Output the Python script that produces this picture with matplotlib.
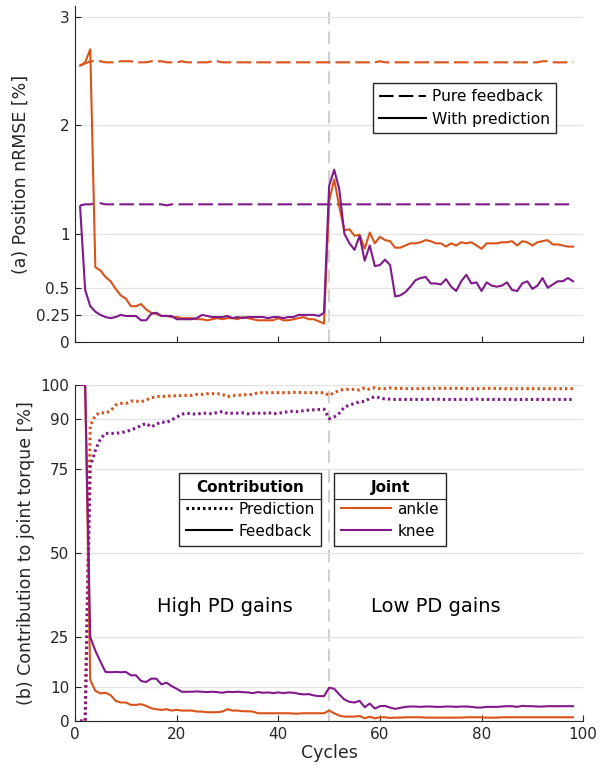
import matplotlib
matplotlib.use('Agg')
import matplotlib.pyplot as plt
from matplotlib.lines import Line2D
import numpy as np

# data ---------------------------------------------------------------
cycles = np.arange(1, 99)

# (a) position nRMSE [%]
ankle_rmse_fb = [2.55, 2.57, 2.59, 2.59, 2.59, 2.58, 2.58, 2.58, 2.59, 2.59,
                 2.59, 2.58, 2.58, 2.58, 2.59, 2.59, 2.59, 2.58, 2.58, 2.58,
                 2.59, 2.58, 2.58, 2.58, 2.58, 2.58, 2.59, 2.59, 2.58, 2.58,
                 2.58, 2.58, 2.58, 2.58, 2.58, 2.58, 2.58, 2.58, 2.58, 2.58,
                 2.58, 2.58, 2.58, 2.58, 2.58, 2.58, 2.58, 2.58, 2.58, 2.58,
                 2.58, 2.58, 2.58, 2.58, 2.58, 2.58, 2.58, 2.58, 2.58, 2.59,
                 2.58, 2.58, 2.58, 2.58, 2.58, 2.58, 2.58, 2.58, 2.58, 2.58,
                 2.58, 2.58, 2.58, 2.58, 2.58, 2.58, 2.58, 2.58, 2.58, 2.58,
                 2.58, 2.58, 2.58, 2.58, 2.58, 2.58, 2.58, 2.58, 2.58, 2.58,
                 2.58, 2.59, 2.59, 2.58, 2.58, 2.58, 2.58, 2.58]
knee_rmse_fb = [1.26, 1.27, 1.27, 1.28, 1.28, 1.27, 1.27, 1.27, 1.27, 1.27,
                1.27, 1.27, 1.27, 1.27, 1.27, 1.27, 1.27, 1.26, 1.27, 1.27,
                1.27, 1.27, 1.27, 1.27, 1.27, 1.27, 1.27, 1.27, 1.27, 1.27,
                1.27, 1.27, 1.27, 1.27, 1.27, 1.27, 1.27, 1.27, 1.27, 1.27,
                1.27, 1.27, 1.27, 1.27, 1.27, 1.27, 1.27, 1.27, 1.27, 1.27,
                1.27, 1.27, 1.27, 1.27, 1.27, 1.27, 1.27, 1.27, 1.27, 1.27,
                1.27, 1.27, 1.27, 1.27, 1.27, 1.27, 1.27, 1.27, 1.27, 1.27,
                1.27, 1.27, 1.27, 1.27, 1.27, 1.27, 1.27, 1.27, 1.27, 1.27,
                1.27, 1.27, 1.27, 1.27, 1.27, 1.27, 1.27, 1.27, 1.27, 1.27,
                1.27, 1.27, 1.27, 1.27, 1.27, 1.27, 1.27, 1.27]
ankle_rmse_pred = [2.55, 2.58, 2.70, 0.69, 0.66, 0.60, 0.56, 0.49, 0.43, 0.40,
                   0.33, 0.33, 0.35, 0.30, 0.27, 0.26, 0.24, 0.24, 0.23, 0.23,
                   0.22, 0.22, 0.22, 0.21, 0.21, 0.20, 0.21, 0.22, 0.21, 0.22,
                   0.22, 0.21, 0.23, 0.22, 0.21, 0.20, 0.20, 0.20, 0.20, 0.22,
                   0.20, 0.20, 0.21, 0.22, 0.23, 0.21, 0.21, 0.19, 0.17, 1.30,
                   1.50, 1.25, 1.03, 1.04, 0.98, 0.99, 0.86, 1.01, 0.91, 0.97,
                   0.94, 0.93, 0.87, 0.87, 0.89, 0.91, 0.91, 0.92, 0.94, 0.93,
                   0.91, 0.91, 0.88, 0.91, 0.89, 0.92, 0.91, 0.92, 0.89, 0.86,
                   0.91, 0.91, 0.91, 0.92, 0.92, 0.93, 0.89, 0.93, 0.92, 0.89,
                   0.92, 0.93, 0.94, 0.90, 0.90, 0.89, 0.88, 0.88]
knee_rmse_pred = [1.25, 0.48, 0.33, 0.28, 0.25, 0.23, 0.22, 0.23, 0.25, 0.24,
                  0.24, 0.24, 0.20, 0.20, 0.26, 0.27, 0.24, 0.24, 0.24, 0.21,
                  0.21, 0.21, 0.21, 0.22, 0.25, 0.24, 0.23, 0.23, 0.23, 0.24,
                  0.22, 0.23, 0.22, 0.23, 0.23, 0.23, 0.23, 0.22, 0.23, 0.23,
                  0.22, 0.23, 0.23, 0.25, 0.25, 0.25, 0.25, 0.24, 0.27, 1.44,
                  1.59, 1.41, 1.00, 0.91, 0.85, 0.98, 0.75, 0.89, 0.70, 0.71,
                  0.76, 0.71, 0.42, 0.43, 0.46, 0.51, 0.57, 0.59, 0.60, 0.54,
                  0.54, 0.53, 0.58, 0.51, 0.47, 0.56, 0.62, 0.54, 0.55, 0.47,
                  0.55, 0.52, 0.51, 0.52, 0.55, 0.48, 0.47, 0.54, 0.56, 0.49,
                  0.52, 0.59, 0.50, 0.53, 0.56, 0.56, 0.59, 0.56]

# (b) contribution to joint torque [%]
ankle_tq_fb = [100, 100, 12.2, 9.0, 8.2, 8.4, 7.7, 6.0, 5.5, 5.5,
               4.8, 4.8, 5.0, 4.5, 3.8, 3.5, 3.3, 3.5, 3.1, 3.3,
               3.1, 3.1, 3.1, 2.8, 2.8, 2.6, 2.6, 2.6, 2.8, 3.5,
               3.1, 3.1, 2.9, 2.9, 2.8, 2.3, 2.3, 2.3, 2.3, 2.3,
               2.3, 2.3, 2.2, 2.2, 2.3, 2.3, 2.3, 2.3, 2.3, 3.1,
               2.3, 1.6, 1.3, 1.3, 1.3, 1.5, 0.8, 1.3, 0.8, 1.1,
               1.1, 0.9, 1.0, 1.0, 1.1, 1.1, 1.1, 1.1, 1.0, 1.0,
               1.0, 1.0, 1.0, 1.0, 1.0, 1.0, 1.1, 1.1, 1.1, 1.1,
               1.0, 1.0, 1.0, 1.1, 1.1, 1.1, 1.1, 1.1, 1.1, 1.1,
               1.1, 1.1, 1.1, 1.1, 1.1, 1.1, 1.1, 1.1]
ankle_tq_pred = [0, 0, 87.8, 91.0, 91.8, 91.6, 92.3, 94.0, 94.5, 94.5,
                 95.2, 95.2, 95.0, 95.5, 96.2, 96.5, 96.7, 96.5, 96.9, 96.7,
                 96.9, 96.9, 96.9, 97.2, 97.2, 97.4, 97.4, 97.4, 97.2, 96.5,
                 96.9, 96.9, 97.1, 97.1, 97.2, 97.7, 97.7, 97.7, 97.7, 97.7,
                 97.7, 97.7, 97.8, 97.8, 97.7, 97.7, 97.7, 97.7, 97.7, 96.9,
                 97.7, 98.4, 98.7, 98.7, 98.7, 98.5, 99.2, 98.7, 99.2, 98.9,
                 98.9, 99.1, 99.0, 99.0, 98.9, 98.9, 98.9, 98.9, 99.0, 99.0,
                 99.0, 99.0, 99.0, 99.0, 99.0, 99.0, 98.9, 98.9, 98.9, 98.9,
                 99.0, 99.0, 99.0, 98.9, 98.9, 98.9, 98.9, 98.9, 98.9, 98.9,
                 98.9, 98.9, 98.9, 98.9, 98.9, 98.9, 98.9, 98.9]
knee_tq_fb = [100, 100, 25.0, 20.9, 17.7, 14.6, 14.5, 14.6, 14.5, 14.6,
              13.6, 13.6, 11.9, 11.6, 12.6, 12.6, 10.9, 11.4, 10.4, 9.6,
              8.7, 8.7, 8.7, 8.8, 8.7, 8.6, 8.7, 8.6, 8.4, 8.7,
              8.6, 8.7, 8.6, 8.5, 8.3, 8.6, 8.4, 8.5, 8.3, 8.5,
              8.3, 8.5, 8.4, 8.1, 7.9, 8.0, 7.6, 7.4, 7.4, 9.9,
              9.6, 7.9, 6.4, 5.7, 5.5, 6.0, 4.1, 5.2, 3.7, 4.4,
              4.5, 4.0, 3.6, 3.9, 4.2, 4.3, 4.3, 4.2, 4.3, 4.3,
              4.2, 4.2, 4.3, 4.3, 4.2, 4.3, 4.3, 4.2, 4.0, 4.0,
              4.2, 4.2, 4.2, 4.3, 4.4, 4.4, 4.2, 4.5, 4.4, 4.4,
              4.3, 4.3, 4.4, 4.4, 4.4, 4.4, 4.4, 4.4]
knee_tq_pred = [0, 0, 75.7, 80.5, 84.0, 85.6, 85.6, 85.6, 85.8, 86.1,
                86.6, 87.2, 87.9, 88.6, 87.5, 88.3, 89.0, 88.8, 89.6, 90.4,
                91.3, 91.6, 91.4, 91.3, 91.6, 91.6, 91.4, 91.8, 92.1, 91.5,
                91.6, 91.6, 91.7, 91.4, 91.6, 91.6, 91.5, 91.8, 91.4, 91.6,
                91.8, 92.1, 92.2, 92.0, 92.4, 92.5, 92.6, 92.7, 92.8, 90.0,
                90.5, 91.6, 93.4, 94.0, 94.5, 95.0, 95.1, 96.0, 96.5, 96.2,
                95.8, 95.8, 95.7, 95.7, 95.7, 95.7, 95.7, 95.7, 95.7, 95.7,
                95.8, 95.7, 95.7, 95.7, 95.7, 95.7, 95.7, 95.7, 95.8, 95.7,
                95.7, 95.7, 95.7, 95.7, 95.7, 95.7, 95.6, 95.7, 95.7, 95.7,
                95.7, 95.7, 95.7, 95.7, 95.7, 95.7, 95.7, 95.7]

rmse_ticks = [0, 0.25, 0.5, 1, 2, 3]
torque_ticks = [0, 10, 25, 50, 75, 90, 100]
cycle_ticks = [0, 20, 40, 60, 80, 100]
switch_cycle = 50

c_ankle = '#D95319'
c_knee = '#80198A'
dark = '#262626'

plt.rcParams['font.family'] = 'DejaVu Sans'
fig = plt.figure(figsize=(6, 7.76), dpi=100)
ax1 = fig.add_axes([0.125, 0.5593, 0.847, 0.433])
ax2 = fig.add_axes([0.125, 0.0709, 0.847, 0.433])

dash = (7, 2.5)
dot = (0.8, 1.0)

# --- (a) ---
ax1.plot(cycles, ankle_rmse_fb, color=c_ankle, lw=1.5, dashes=dash)
ax1.plot(cycles, knee_rmse_fb, color=c_knee, lw=1.5, dashes=dash)
ax1.plot(cycles, ankle_rmse_pred, color=c_ankle, lw=1.5)
ax1.plot(cycles, knee_rmse_pred, color=c_knee, lw=1.5)
ax1.set_ylim(0, 3.1)
ax1.set_yticks(rmse_ticks)
ax1.set_yticklabels(['0', '0.25', '0.5', '1', '2', '3'])
ax1.set_xticklabels([])
ax1.set_ylabel('(a) Position nRMSE [%]', fontsize=12.5, color=dark)
h = [Line2D([], [], color='k', lw=1.5, dashes=dash),
     Line2D([], [], color='k', lw=1.5)]
ax1.legend(h, ['Pure feedback', 'With prediction'], loc='upper right',
           bbox_to_anchor=(0.947, 0.771), borderaxespad=0, fontsize=11.2,
           fancybox=False, framealpha=1, edgecolor=dark, handlelength=3,
           handletextpad=0.4)

# --- (b) ---
ax2.plot(cycles, ankle_tq_pred, color=c_ankle, lw=2.2, dashes=dot)
ax2.plot(cycles, knee_tq_pred, color=c_knee, lw=2.2, dashes=dot)
ax2.plot(cycles, ankle_tq_fb, color=c_ankle, lw=1.5)
ax2.plot(cycles, knee_tq_fb, color=c_knee, lw=1.5)
ax2.set_ylim(0, 100)
ax2.set_yticks(torque_ticks)
ax2.set_xticklabels([str(t) for t in cycle_ticks])
ax2.set_ylabel('(b) Contribution to joint torque [%]', fontsize=12.5, color=dark)
ax2.set_xlabel('Cycles', fontsize=12.5, color=dark, labelpad=2)
ax2.text(29.5, 34, 'High PD gains', fontsize=14, ha='center', va='center', color='k')
ax2.text(71, 34, 'Low PD gains', fontsize=14, ha='center', va='center', color='k')

leg_kw = dict(loc='upper left', borderaxespad=0, fontsize=11, fancybox=False,
              framealpha=1, edgecolor=dark, handletextpad=0.4, borderpad=0.45,
              labelspacing=0.45, title_fontproperties={'weight': 'bold', 'size': 11})
hc = [Line2D([], [], color='k', lw=2.2, dashes=dot), Line2D([], [], color='k', lw=1.5)]
leg_c = ax2.legend(hc, ['Prediction', 'Feedback'], title='Contribution',
                   bbox_to_anchor=(0.205, 0.738), handlelength=3, **leg_kw)
ax2.add_artist(leg_c)
hj = [Line2D([], [], color=c_ankle, lw=1.5), Line2D([], [], color=c_knee, lw=1.5)]
leg_j = ax2.legend(hj, ['ankle', 'knee'], title='Joint',
                   bbox_to_anchor=(0.51, 0.738), handlelength=3.3, **leg_kw)

for ax in (ax1, ax2):
    ax.axvline(switch_cycle, color='#cccccc', lw=1.3, dashes=(7, 4), zorder=0)
    ax.set_xlim(0, 100)
    ax.set_xticks(cycle_ticks)
    ax.grid(axis='y', color='#e3e3e3', lw=0.9)
    ax.set_axisbelow(True)
    for s in ('top', 'right'):
        ax.spines[s].set_visible(False)
    for s in ('left', 'bottom'):
        ax.spines[s].set_color(dark)
        ax.spines[s].set_linewidth(0.8)
    ax.tick_params(direction='in', length=4, width=0.8, labelsize=11,
                   colors=dark, pad=4)

# separator line under each legend title
fig.canvas.draw()
inv = fig.transFigure.inverted()
for leg in (leg_c, leg_j):
    bb = leg.get_frame().get_window_extent()
    tb = leg.get_title().get_window_extent()
    y = tb.y0 - 4
    (x0, yy), (x1, _) = inv.transform([(bb.x0, y), (bb.x1, y)])
    fig.add_artist(Line2D([x0, x1], [yy, yy], color=dark, lw=0.8))

plt.savefig('out.png', dpi=100)
